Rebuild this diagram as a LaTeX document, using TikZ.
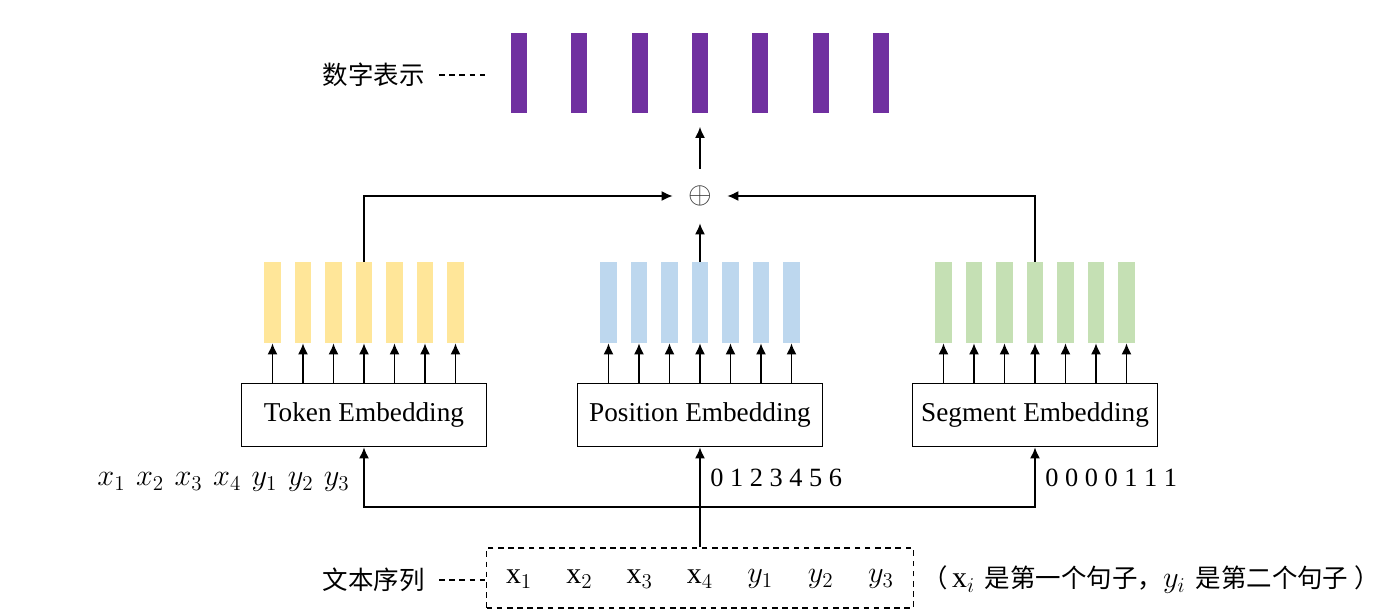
\documentclass[tikz,border=0pt]{standalone}
\usepackage{fontspec}
\setmainfont{Liberation Serif}
\newfontfamily\cjk{Noto Sans CJK SC}
\usetikzlibrary{arrows.meta,positioning}

\definecolor{repfill}{HTML}{7030A0}
\definecolor{tokfill}{HTML}{FFE699}
\definecolor{posfill}{HTML}{BDD7EE}
\definecolor{segfill}{HTML}{C5E0B4}

\begin{document}
\begin{tikzpicture}[
    x=0.02cm, y=-0.02cm,
    bar/.style={inner sep=0pt, minimum width=0.33cm, minimum height=1.62cm},
    repbar/.style={inner sep=0pt, fill=repfill, minimum width=0.32cm, minimum height=1.6cm},
    embbox/.style={draw, line width=1pt, minimum width=4.9cm, minimum height=1.26cm, font=\fontsize{15.5}{18}\selectfont},
    label/.style={font=\fontsize{15}{18}\selectfont, inner sep=0pt},
    mathlabel/.style={font=\fontsize{17}{20}\selectfont, inner sep=0pt},
    cjklabel/.style={font=\cjk\fontsize{14.5}{18}\selectfont, inner sep=0pt},
    arrow/.style={-{Latex[length=2.2mm,width=2mm]}, line width=0.9pt},
    leader/.style={line width=1pt, dash pattern=on 3.2pt off 2.6pt}
  ]
    \useasboundingbox (0,0) rectangle (1400,610);
    % output vectors and the three embedding rows
    \foreach \i in {1,...,7} {
      \node[repbar] (rep\i) at ({700+60.3*(\i-4)},72.5) {};
      \node[bar, fill=tokfill] (tok\i) at ({364+30.5*(\i-4)},302.5) {};
      \node[bar, fill=posfill] (pos\i) at ({700+30.5*(\i-4)},302.5) {};
      \node[bar, fill=segfill] (seg\i) at ({1035+30.5*(\i-4)},302.5) {};
    }
    \node[cjklabel, anchor=east] (replabel) at (425,75) {数字表示};
    \draw[leader] ([xshift=0.28cm]replabel.east) -- ([xshift=-0.5cm]rep1.west |- replabel.east);
    % embedding layers
    \node[embbox] (tokbox) at (364,415) {Token Embedding};
    \node[embbox] (posbox) at (700,415) {Position Embedding};
    \node[embbox] (segbox) at (1035,415) {Segment Embedding};
    \foreach \i in {1,...,7} {
      \draw[arrow] (tokbox.north -| tok\i) -- (tok\i.south);
      \draw[arrow] (posbox.north -| pos\i) -- (pos\i.south);
      \draw[arrow] (segbox.north -| seg\i) -- (seg\i.south);
    }
    % sum
    \node[circle, minimum size=1.08cm, inner sep=0pt, text=black!80, font=\fontsize{19}{19}\selectfont] (sum) at (700,196) {$\oplus$};
    \draw[arrow] (tok4.north) |- (sum.west);
    \draw[arrow] (seg4.north) |- (sum.east);
    \draw[arrow] (pos4.north) -- (sum.south);
    \draw[arrow] (sum.north) -- ([yshift=-0.28cm]rep4.south);
    % input sequence
    \node[draw, line width=1pt, dash pattern=on 3.2pt off 2.6pt, minimum width=8.54cm, minimum height=1.2cm] (seq) at (700,578) {};
    \foreach \t [count=\i] in {\mathrm{x}_1, \mathrm{x}_2, \mathrm{x}_3, \mathrm{x}_4, y_1, y_2, y_3}
      \node[mathlabel] (in\i) at ({700+60.3*(\i-4)},579) {$\t$};
    \node[cjklabel, anchor=east] (seqlabel) at (425,580) {文本序列};
    \draw[leader] ([xshift=0.28cm]seqlabel.east) -- (seq.west |- seqlabel.east);
    \node[cjklabel, anchor=west] (note) at (922,580) {（\,{\fontsize{17}{18}\selectfont$\mathrm{x}_i$}\, 是第一个句子，{\fontsize{17}{18}\selectfont$y_i$}\, 是第二个句子 ）};
    \coordinate (fork) at (700,507);
    \draw[arrow] (seq.north) -- (posbox.south);
    \draw[arrow] (fork) -| (tokbox.south);
    \draw[arrow] (fork) -| (segbox.south);
    % index labels
    \node[mathlabel, anchor=east] (toklabel) at (350,482) {$x_1\hspace{0.35em}x_2\hspace{0.35em}x_3\hspace{0.35em}x_4\hspace{0.35em}y_1\hspace{0.35em}y_2\hspace{0.35em}y_3$};
    \node[label, anchor=west] (poslabel) at (710,478) {0 1 2 3 4 5 6};
    \node[label, anchor=west] (seglabel) at (1045,478) {0 0 0 0 1 1 1};
  \end{tikzpicture}
\end{document}
